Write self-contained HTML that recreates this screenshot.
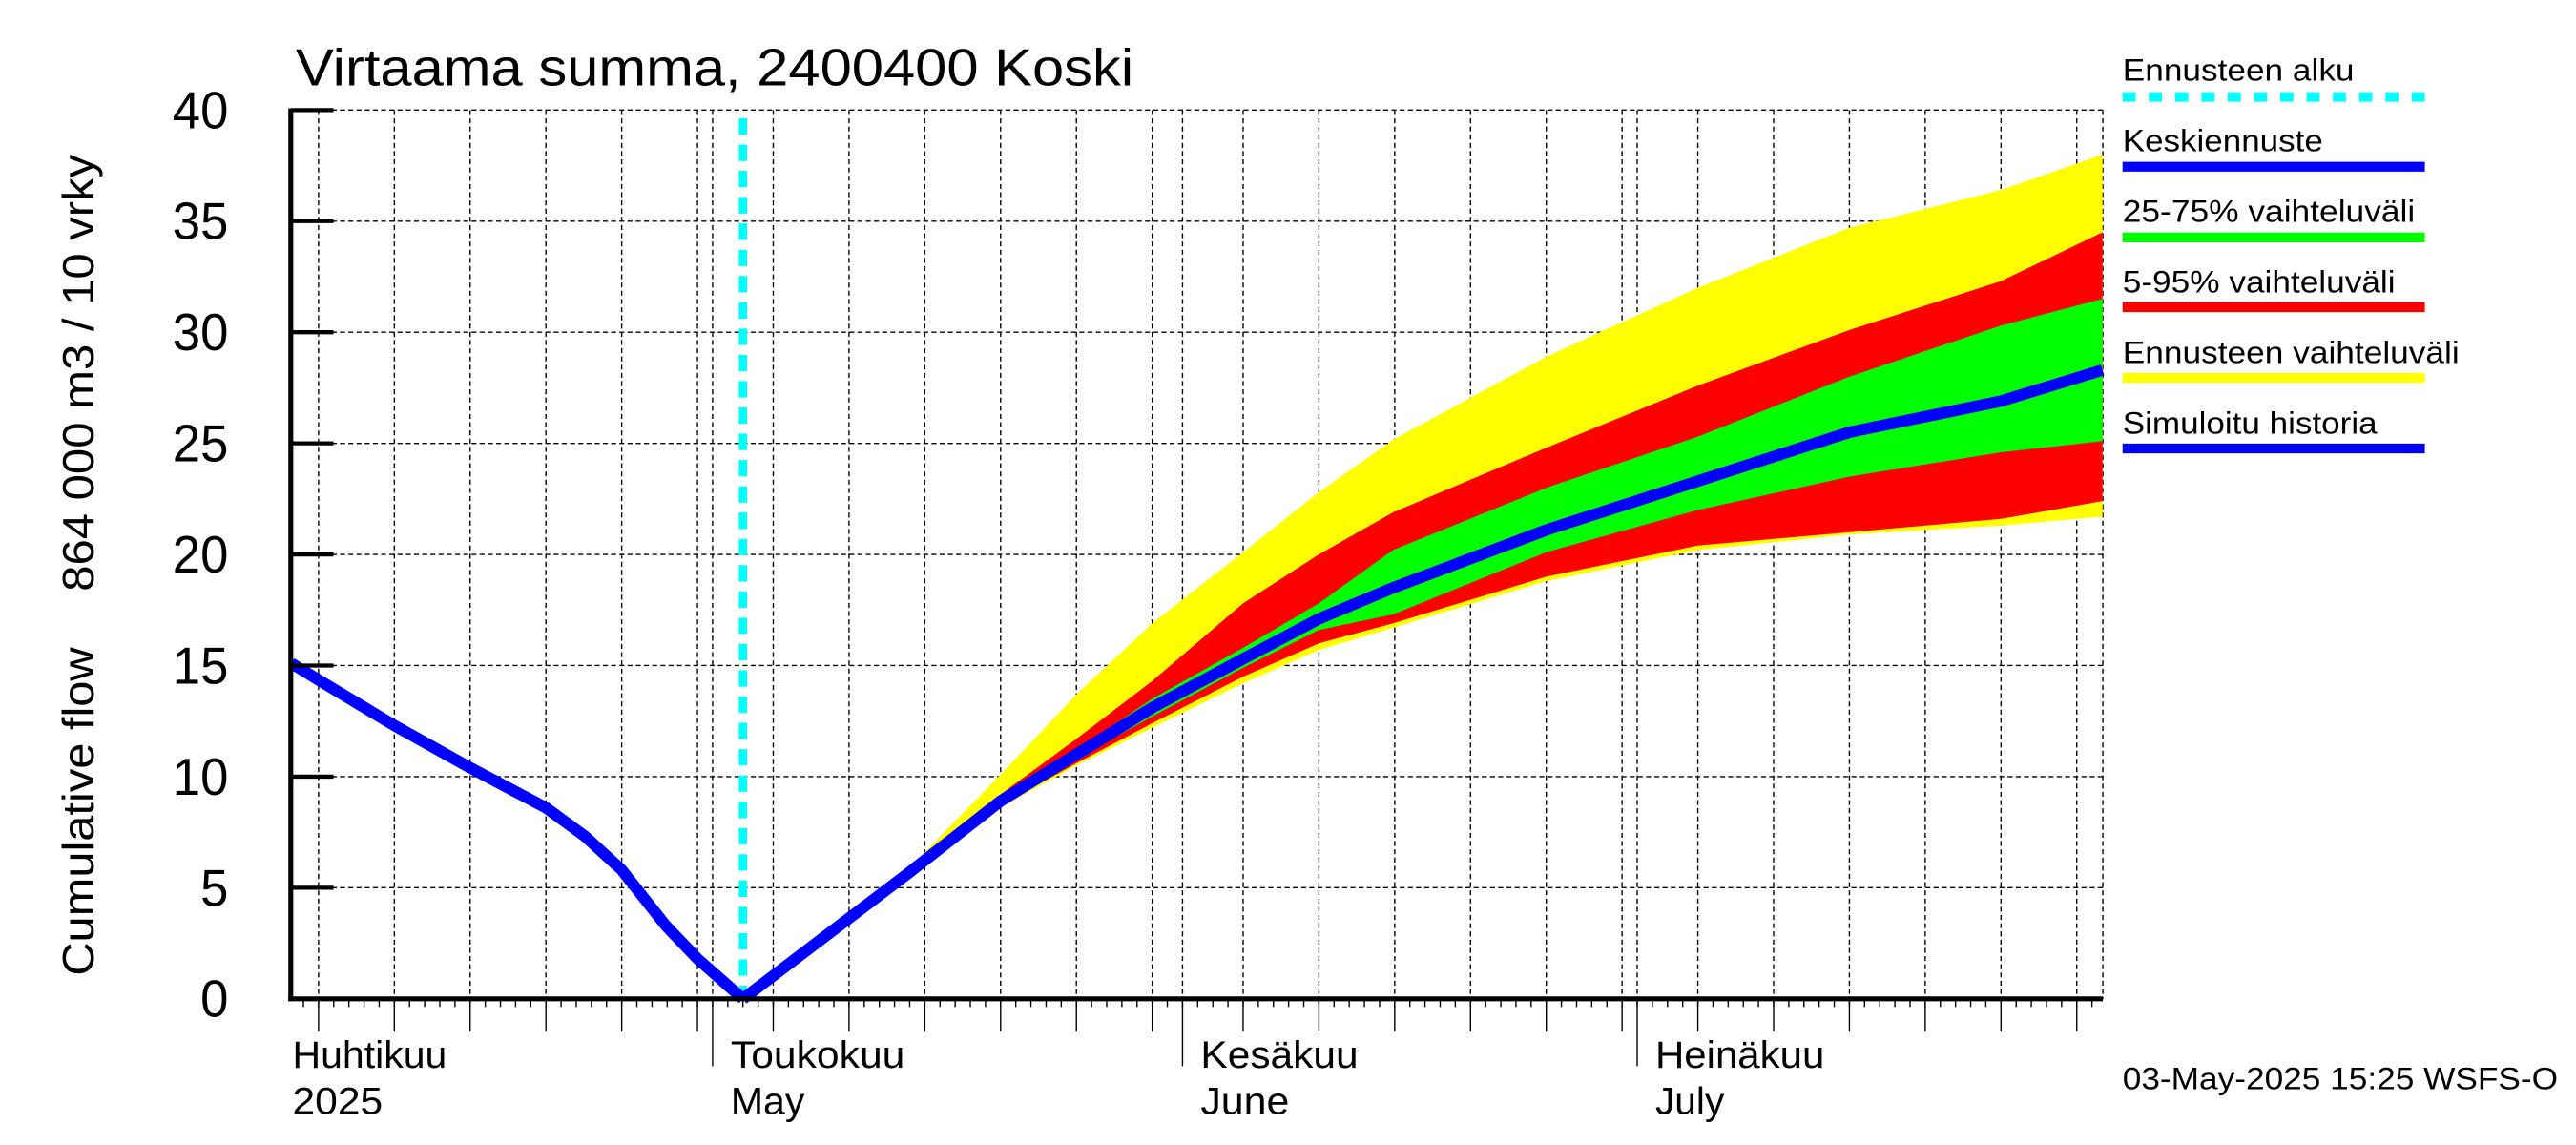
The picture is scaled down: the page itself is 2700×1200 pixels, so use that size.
<!DOCTYPE html>
<html><head><meta charset="utf-8"><style>
html,body{margin:0;padding:0;background:#fff;}
svg{display:block;font-family:"Liberation Sans",sans-serif;}
</style></head><body>
<svg id="chart" width="2700" height="1200" viewBox="0 0 1568 697" preserveAspectRatio="none" xmlns="http://www.w3.org/2000/svg">
<rect x="0" y="0" width="1568" height="697" fill="#fff"/>
<g id="grid"></g>
<g id="bands"></g>
<g id="lines"></g>
<g id="axes"></g>
<text x="180" y="52" font-size="32" textLength="510" lengthAdjust="spacingAndGlyphs">Virtaama summa, 2400400 Koski</text>
<text transform="translate(57,594) rotate(-90)" font-size="27" textLength="200" lengthAdjust="spacingAndGlyphs">Cumulative flow</text>
<text transform="translate(57,360) rotate(-90)" font-size="27" textLength="266" lengthAdjust="spacingAndGlyphs">864 000 m3 / 10 vrky</text>
<g font-size="19">
<text x="1292" y="49" textLength="141" lengthAdjust="spacingAndGlyphs">Ennusteen alku</text>
<line x1="1292" y1="59" x2="1476" y2="59" stroke="#00ffff" stroke-width="5.8" stroke-dasharray="8 8"/>
<text x="1292" y="92" textLength="122" lengthAdjust="spacingAndGlyphs">Keskiennuste</text>
<line x1="1292" y1="101.5" x2="1476" y2="101.5" stroke="#0000ff" stroke-width="6"/>
<text x="1292" y="135" textLength="178" lengthAdjust="spacingAndGlyphs">25-75% vaihteluväli</text>
<line x1="1292" y1="144.5" x2="1476" y2="144.5" stroke="#00ff00" stroke-width="6"/>
<text x="1292" y="178" textLength="166" lengthAdjust="spacingAndGlyphs">5-95% vaihteluväli</text>
<line x1="1292" y1="187" x2="1476" y2="187" stroke="#ff0000" stroke-width="6"/>
<text x="1292" y="221" textLength="205" lengthAdjust="spacingAndGlyphs">Ennusteen vaihteluväli</text>
<line x1="1292" y1="230" x2="1476" y2="230" stroke="#ffff00" stroke-width="6"/>
<text x="1292" y="264" textLength="155" lengthAdjust="spacingAndGlyphs">Simuloitu historia</text>
<line x1="1292" y1="273" x2="1476" y2="273" stroke="#0000ff" stroke-width="6"/>
</g>
<text x="1292" y="663" font-size="19" textLength="265" lengthAdjust="spacingAndGlyphs">03-May-2025 15:25 WSFS-O</text>
</svg>
<script>
// data (days since 1 April 2025)
const histDays = [2.2, 4, 9, 14, 19, 21.6, 24, 26.9, 29, 32];
const histVals = [15.1, 14.35, 12.3, 10.4, 8.6, 7.3, 5.8, 3.3, 1.8, 0];
const fcDays = [32, 43, 49, 54, 59, 65, 70, 74.9, 85, 95, 105, 115, 121.7];
const yellowHi = [0, 5.9, 10.1, 13.7, 16.9, 20.1, 22.8, 25.16, 28.9, 32.0, 34.7, 36.4, 38.0];
const redHi = [0, 5.8, 9.2, 11.7, 14.3, 17.8, 20.0, 21.9, 24.8, 27.6, 30.1, 32.3, 34.5];
const greenHi = [0, 5.75, 9.0, 11.2, 13.5, 15.8, 17.8, 20.2, 23.0, 25.3, 28.0, 30.3, 31.5];
const median = [0, 5.7, 8.9, 11.0, 13.1, 15.3, 17.1, 18.5, 21.1, 23.3, 25.5, 26.9, 28.3];
const greenLo = [0, 5.65, 8.8, 10.8, 12.7, 14.9, 16.6, 17.3, 20.1, 22.0, 23.5, 24.6, 25.1];
const redLo = [0, 5.6, 8.7, 10.6, 12.4, 14.5, 16.0, 16.9, 19.0, 20.4, 21.0, 21.6, 22.4];
const yellowLo = [0, 5.6, 8.6, 10.5, 12.2, 14.2, 15.7, 16.7, 18.8, 20.2, 20.9, 21.3, 21.7];
const forecastStartDay = 32;
const yTicks = [0, 5, 10, 15, 20, 25, 30, 35, 40];
const monthStarts = [0, 30, 61, 91];
const monthFi = ["Huhtikuu", "Toukokuu", "Kesäkuu", "Heinäkuu"];
const monthEn = ["2025", "May", "June", "July"];

const NS = "http://www.w3.org/2000/svg";
const X0 = 177, X1 = 1280, Y0 = 608, Y1 = 67;
const xs = d => 157 + 9.226 * d;
const ys = v => Y0 - (Y0 - Y1) * v / 40;
function mk(tag, parent, attrs) {
  const e = document.createElementNS(NS, tag);
  for (const k in attrs) e.setAttribute(k, attrs[k]);
  parent.appendChild(e); return e;
}
const grid = document.getElementById('grid');
const bands = document.getElementById('bands');
const lines = document.getElementById('lines');
const axes = document.getElementById('axes');

const gridDays = [];
for (let m = 0; m < 4; m++) {
  const len = [30, 31, 30, 31][m];
  gridDays.push(monthStarts[m]);
  for (let k = 5; k <= 30; k += 5) if (k <= len) gridDays.push(monthStarts[m] + k - 1);
}
gridDays.forEach(d => {
  const x = xs(d);
  if (x < X0 + 1 || x > X1 + 0.5) return;
  const l = mk('line', grid, {x1: x, y1: Y1, x2: x, y2: Y0, stroke: '#000', 'stroke-width': 0.8, 'stroke-dasharray': '3 2'});
  
  
});
{
  const l = mk('line', grid, {x1: X1, y1: Y1, x2: X1, y2: Y0, stroke: '#000', 'stroke-width': 0.8, 'stroke-dasharray': '3 2'});
  
  
}
yTicks.forEach(v => {
  if (v === 0) return;
  const y = ys(v);
  const l = mk('line', grid, {x1: X0, y1: y, x2: X1, y2: y, stroke: '#000', 'stroke-width': 0.8, 'stroke-dasharray': '3 2'});
  
  
});

function band(hi, lo, color, name) {
  let d = '';
  fcDays.forEach((t, i) => { d += (i ? 'L' : 'M') + xs(t).toFixed(2) + ',' + ys(hi[i]).toFixed(2); });
  for (let i = fcDays.length - 1; i >= 0; i--) d += 'L' + xs(fcDays[i]).toFixed(2) + ',' + ys(lo[i]).toFixed(2);
  const p = mk('path', bands, {d: d + 'Z', fill: color});
  
  
}
band(yellowHi, yellowLo, '#ffff00', 'band-full-range');
band(redHi, redLo, '#ff0000', 'band-5-95');
band(greenHi, greenLo, '#00ff00', 'band-25-75');

{
  const x = xs(forecastStartDay);
  const l = mk('line', lines, {x1: x, y1: 72, x2: x, y2: Y0, stroke: '#00ffff', 'stroke-width': 5, 'stroke-dasharray': '10 6'});
  
  
}
function poly(dd, vv, name) {
  const pts = dd.map((t, i) => xs(t).toFixed(2) + ',' + ys(vv[i]).toFixed(2)).join(' ');
  const p = mk('polyline', lines, {points: pts, fill: 'none', stroke: '#0000ff', 'stroke-width': 7, 'stroke-linejoin': 'round'});
  
  
}
poly(histDays, histVals, 'simulated-history-line');
poly(fcDays, median, 'median-forecast-line');

{
  const a = mk('line', axes, {x1: X0, y1: Y1 - 1, x2: X0, y2: Y0 + 1.5, stroke: '#000', 'stroke-width': 3});
  
  
  const b = mk('line', axes, {x1: X0 - 1.5, y1: Y0, x2: X1, y2: Y0, stroke: '#000', 'stroke-width': 3});
  
  
}
yTicks.forEach(v => {
  const y = ys(v);
  const t = mk('line', axes, {x1: X0, y1: y, x2: 203, y2: y, stroke: '#000', 'stroke-width': 2.5});
  
  
  const s = String(v);
  const lb = mk('text', axes, {x: 139, y: y + 11, 'font-size': 32, 'text-anchor': 'end', textLength: s.length * 17, lengthAdjust: 'spacingAndGlyphs'});
  lb.textContent = s;
  
  
});
for (let d = 3; d <= 121; d++) {
  const x = xs(d);
  if (x < X0 || x > X1 + 0.5) continue;
  const t = mk('line', axes, {x1: x, y1: Y0, x2: x, y2: Y0 + 5, stroke: '#000', 'stroke-width': 0.8});
  
  
}
gridDays.forEach(d => {
  const x = xs(d);
  if (x < X0 || x > X1 + 0.5) return;
  const isMonth = monthStarts.indexOf(d) >= 0;
  const t = mk('line', axes, {x1: x, y1: Y0, x2: x, y2: isMonth ? 649 : 628, stroke: '#000', 'stroke-width': 0.8});
  
  
});
const fiW = [94, 106, 96, 103];
const enW = [55, 45, 54, 42];
monthStarts.forEach((d, i) => {
  const x = i === 0 ? 178 : xs(d) + 11;
  const a = mk('text', axes, {x: x, y: 650, 'font-size': 23, textLength: fiW[i], lengthAdjust: 'spacingAndGlyphs'});
  a.textContent = monthFi[i];
  
  
  const b = mk('text', axes, {x: x, y: 678, 'font-size': 23, textLength: enW[i], lengthAdjust: 'spacingAndGlyphs'});
  b.textContent = monthEn[i];
  
  
});
</script>
</body></html>
